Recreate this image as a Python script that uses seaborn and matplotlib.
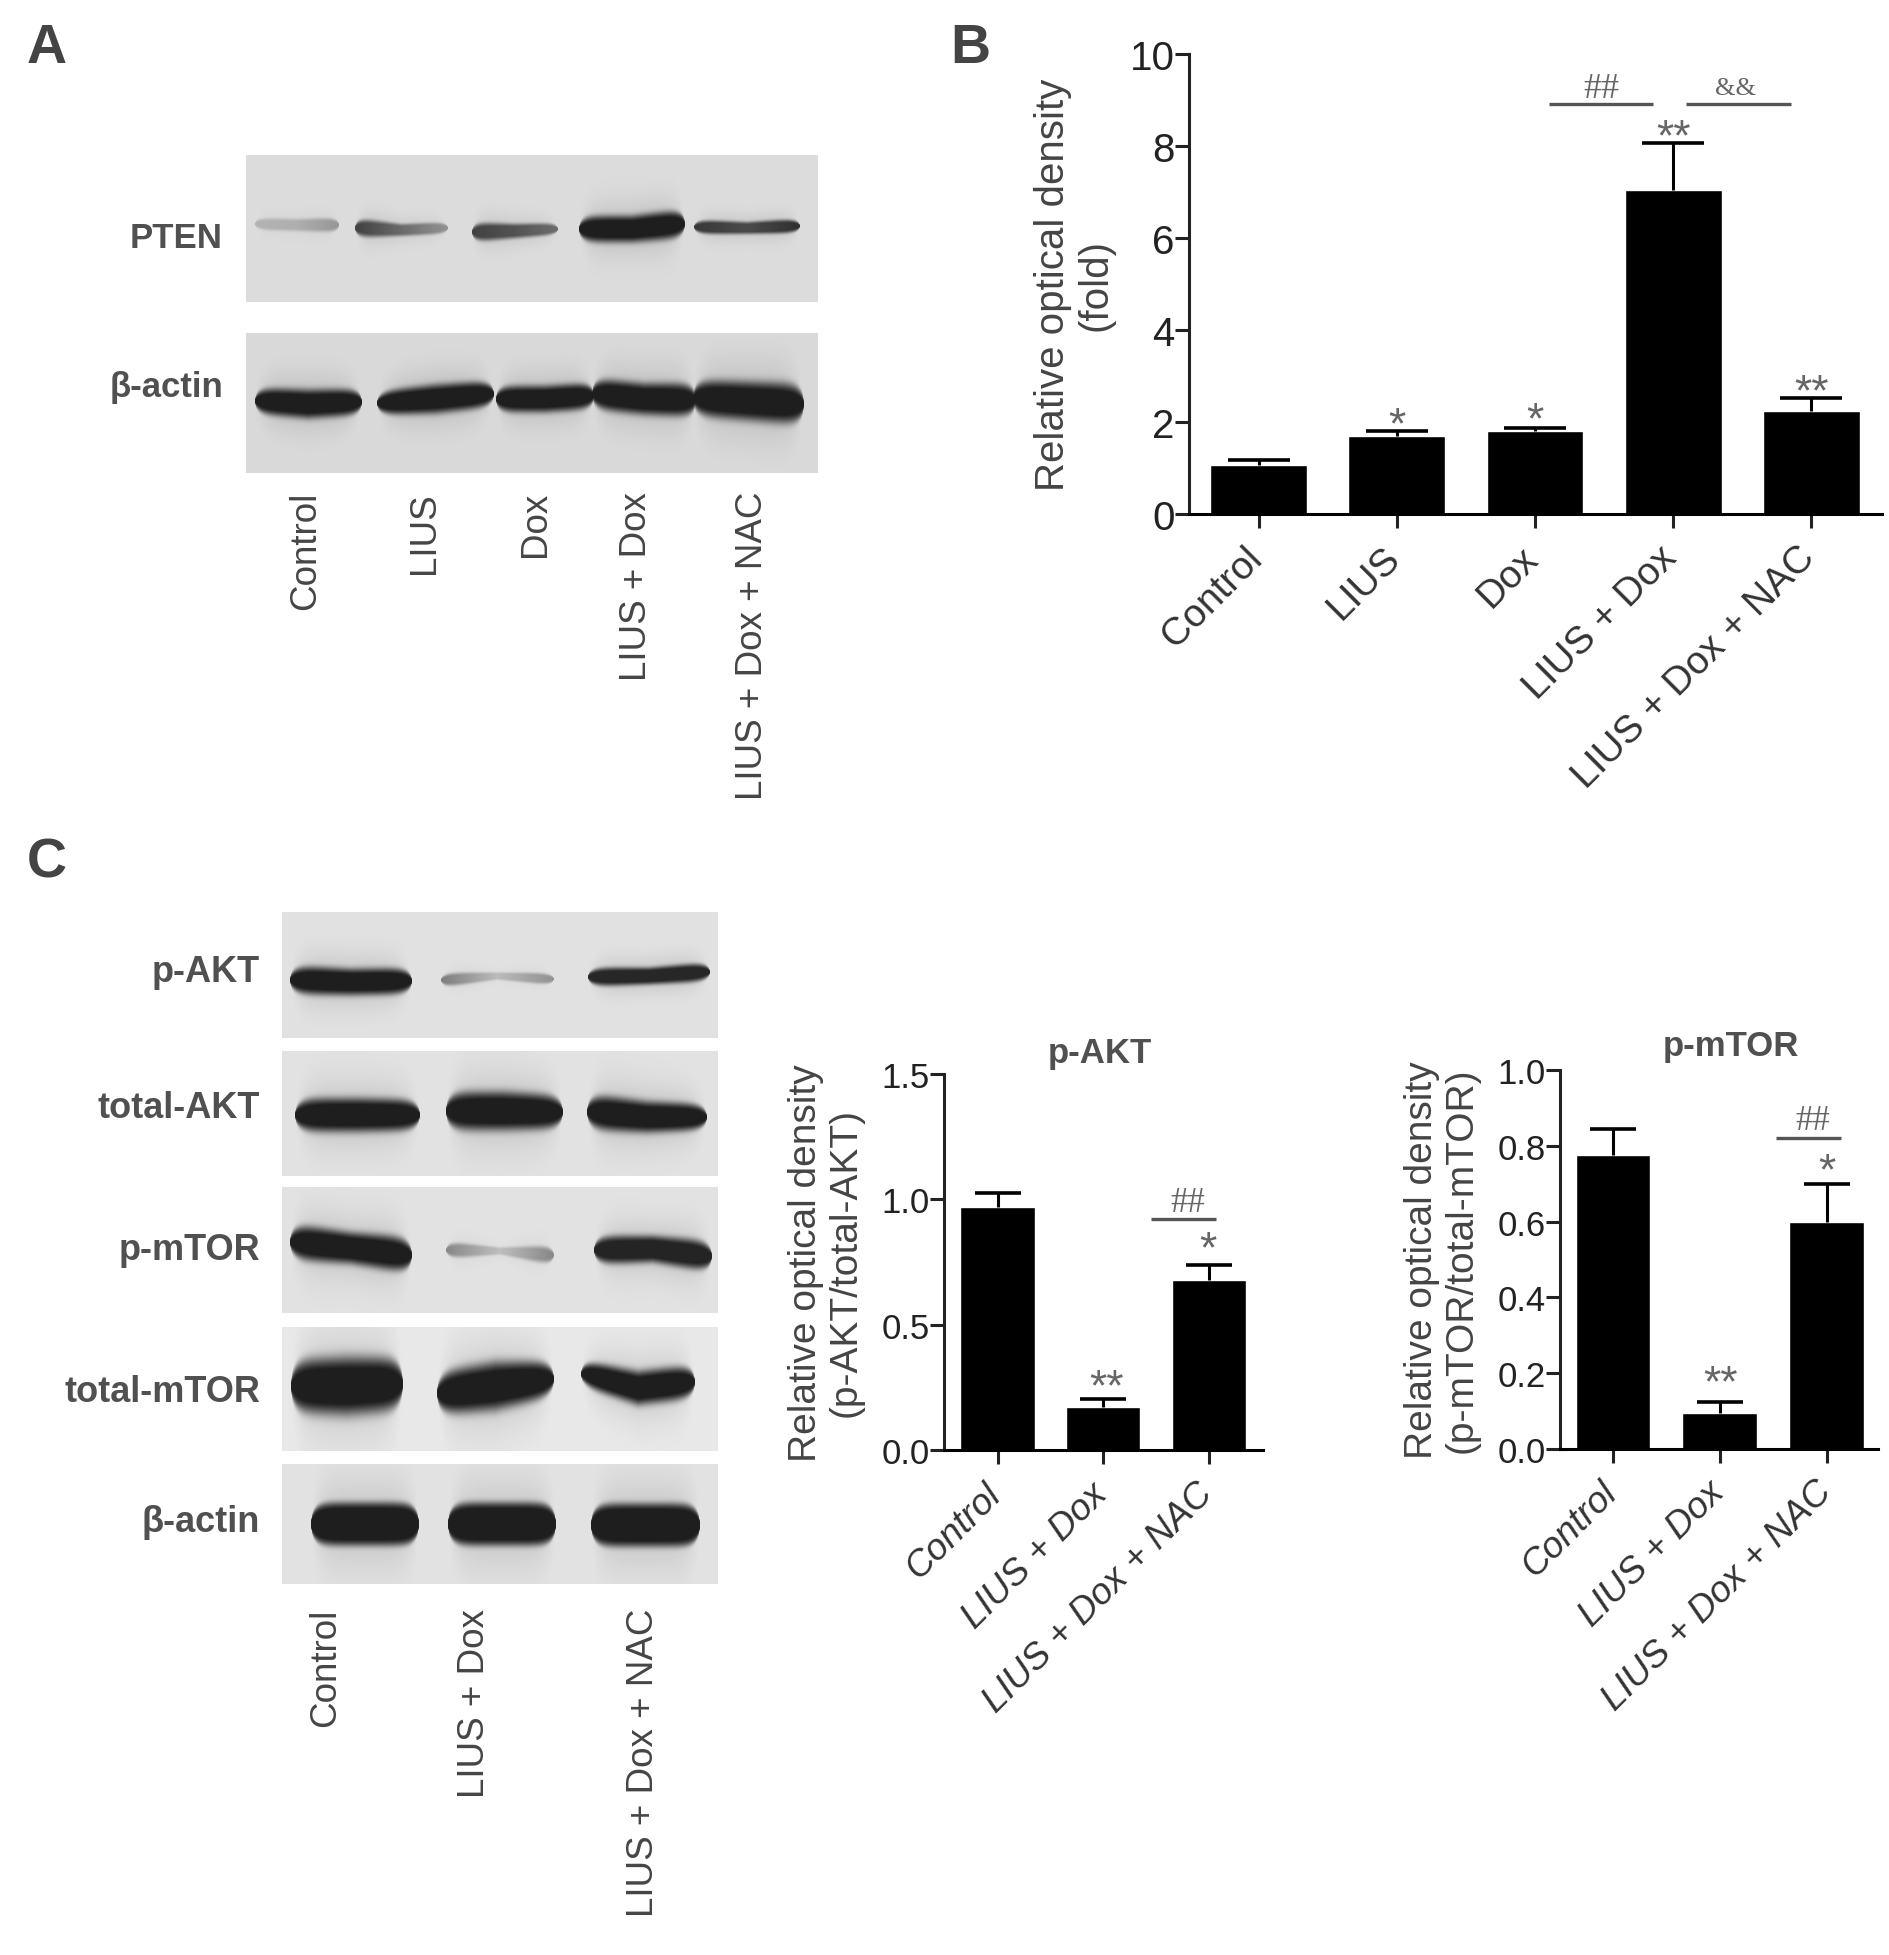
import matplotlib
matplotlib.use("Agg")
import matplotlib.pyplot as plt
from matplotlib.transforms import ScaledTranslation
import numpy as np
import pandas as pd
import seaborn as sns

W, H = 1890, 1956

# bar data
groups_b = ['Control', 'LIUS', 'Dox', 'LIUS + Dox', 'LIUS + Dox + NAC']
density_b = [1.07, 1.70, 1.80, 7.05, 2.25]
error_b = [0.10, 0.10, 0.08, 1.02, 0.27]

groups_c = ['Control', 'LIUS + Dox', 'LIUS + Dox + NAC']
density_akt = [0.97, 0.17, 0.68]
error_akt = [0.055, 0.035, 0.06]
density_mtor = [0.775, 0.095, 0.60]
error_mtor = [0.07, 0.03, 0.10]

# relative band strength of the blots, per lane
pten_bands = [0.40, 0.80, 0.85, 1.0, 0.90]
actin_a_bands = [1.0, 1.0, 1.0, 1.0, 1.0]
pakt_bands = [1.0, 0.50, 0.95]
takt_bands = [1.0, 1.0, 1.0]
pmtor_bands = [1.0, 0.45, 0.97]
tmtor_bands = [1.0, 1.0, 1.0]
actin_c_bands = [1.0, 1.0, 1.0]

sns.set_theme(style='ticks')
plt.rcParams['font.family'] = ['Liberation Sans', 'DejaVu Sans']
plt.rcParams['axes.linewidth'] = 2.2

fig = plt.figure(figsize=(W / 100, H / 100), dpi=100, facecolor='white')


def ax_px(x0, y0, x1, y1):
    return fig.add_axes([x0 / W, 1 - y1 / H, (x1 - x0) / W, (y1 - y0) / H])


def ftext(x, y, s, **kw):
    fig.text(x / W, 1 - y / H, s, **kw)


# lane shapes: x0, x1, centre y (l/m/r), half thickness (l/m/r), strength (l/m/r)
def blot(box, lanes, bands, bg=220, sharp=4, dx=-3):
    x0, y0, x1, y1 = box
    xs = np.arange(x0, x1) + 0.5
    ys = np.arange(y0, y1) + 0.5
    xx, yy = np.meshgrid(xs, ys)
    dark = np.zeros_like(xx)
    for lane, strength in zip(lanes, bands):
        a, b, yc, th, dk = lane
        mid = (a + b) / 2
        half = (b - a) / 2 + 4
        t = [a, mid, b]
        cy = np.interp(xx, t, yc)
        u = np.clip(np.abs(xx - mid) / half, 0, 1)
        # rounded band ends
        tk = np.interp(xx, t, th) * 1.2 * np.sqrt(np.clip(1 - u ** 8, 0.0001, 1))
        dd = np.interp(xx, t, dk) * strength
        core = np.exp(-(np.abs(yy - cy) / tk) ** sharp)
        halo = 0.14 * np.exp(-((yy - cy) / (tk * 2.0 + 1)) ** 2) * (1 - u ** 4)
        dark = np.maximum(dark, dd * np.clip(core + halo, 0, 1))
    img = bg - dark * (bg - 30)
    ax = ax_px(x0 + dx, y0, x1 + dx, y1)
    ax.imshow(img, cmap='gray', vmin=0, vmax=255, aspect='auto', interpolation='bilinear')
    ax.axis('off')


FULL = (1, 1, 1)

# Panel A blots
blot((249, 156, 821, 303), [
    (262, 338, (225, 226, 226), (5, 5, 6), (0.55, 0.6, 0.9)),
    (362, 447, (229, 231, 229), (8, 5, 5), (1, 0.75, 0.5)),
    (479, 557, (233, 232, 230), (8, 6, 5), (0.95, 0.85, 0.7)),
    (586, 684, (230, 230, 225), (11, 11, 12), FULL),
    (701, 799, (228, 229, 227), (6, 5, 6), (0.95, 0.85, 1)),
], pten_bands)
blot((249, 334, 821, 474), [
    (262, 361, (402, 405, 403), (11, 12, 11), FULL),
    (384, 493, (404, 400, 395), (10, 12, 11), FULL),
    (503, 593, (400, 400, 397), (11, 11, 11), FULL),
    (599, 695, (395, 400, 401), (13, 13, 14), FULL),
    (700, 803, (399, 402, 405), (15, 16, 17), FULL),
], actin_a_bands, bg=218)

# Panel C blots
blot((285, 913, 721, 1039), [
    (297, 411, (981, 983, 982), (12, 11, 11), FULL),
    (448, 553, (981, 977, 980), (6, 3, 5), (1, 0.4, 0.8)),
    (595, 709, (978, 977, 973), (8, 7, 8), FULL),
], pakt_bands, bg=226)
blot((285, 1052, 721, 1177), [
    (302, 419, (1116, 1116, 1116), (14, 14, 13), FULL),
    (453, 562, (1112, 1112, 1113), (16, 16, 14), FULL),
    (594, 706, (1113, 1118, 1118), (15, 13, 11), FULL),
], takt_bands, bg=226)
blot((285, 1188, 721, 1314), [
    (297, 411, (1243, 1249, 1256), (15, 13, 15), FULL),
    (453, 553, (1251, 1252, 1256), (7, 3, 8), (1, 0.4, 1)),
    (601, 711, (1251, 1250, 1257), (12, 11, 13), FULL),
], pmtor_bands, bg=226)
blot((285, 1328, 721, 1452), [
    (298, 402, (1387, 1387, 1385), (22, 24, 22), FULL),
    (444, 553, (1394, 1387, 1380), (18, 20, 15), FULL),
    (588, 694, (1375, 1389, 1383), (11, 14, 14), FULL),
], tmtor_bands, bg=232)
blot((285, 1465, 721, 1585), [
    (318, 418, (1525, 1525, 1525), (18, 18, 18), FULL),
    (455, 555, (1525, 1525, 1525), (18, 18, 18), FULL),
    (598, 699, (1526, 1526, 1526), (18, 18, 18), FULL),
], actin_c_bands, bg=226, sharp=6)

grey = '#505050'

# blot row labels
for y, s in [(239, 'PTEN'), (388, 'β-actin')]:
    ftext(223, y, s, ha='right', va='center', fontsize=25, fontweight='bold', color=grey)
for y, s in [(973, 'p-AKT'), (1108, 'total-AKT'), (1251, 'p-mTOR'),
             (1392, 'total-mTOR'), (1523, 'β-actin')]:
    ftext(260, y, s, ha='right', va='center', fontsize=26, fontweight='bold', color=grey)

# lane labels
for x, s in zip([306, 425, 535, 636, 753], groups_b):
    ftext(x, 492, s, rotation=90, ha='center', va='top', fontsize=26.5, color='#454545')
for x, s in zip([326, 475, 644], groups_c):
    ftext(x, 1609, s, rotation=90, ha='center', va='top', fontsize=26.5, color='#454545')

# panel letters
for x, y, s in [(27, 63, 'A'), (950, 63, 'B'), (27, 878, 'C')]:
    ftext(x, y, s, ha='left', va='baseline', fontsize=40, fontweight='bold', color='#444444')


def bars(box, groups, vals, errs, xlim, ylim, yticks, fmt, cap, ylabel, label_x,
         tick_fs, lab_fs, ylab_fs, rot, style, shift):
    ax = ax_px(*box)
    df = pd.DataFrame({'group': groups, 'density': vals})
    sns.barplot(data=df, x='group', y='density', color='black', saturation=1,
                width=0.7, errorbar=None, ax=ax, order=groups)
    xpos = np.arange(len(groups))
    tops = np.array(vals) + np.array(errs)
    ax.vlines(xpos, vals, tops, color='black', lw=2.2)
    ax.plot(xpos, tops, '_', color='black', ms=cap, mew=2.6)
    ax.set_xlim(*xlim)
    ax.set_ylim(*ylim)
    ax.set_yticks(yticks)
    ax.set_yticklabels([fmt % t for t in yticks], fontsize=tick_fs, color='#222222')
    ax.set_xticks(xpos)
    ax.set_xticklabels(groups, rotation=rot, ha='right', rotation_mode='anchor',
                       fontsize=lab_fs, color='#333333', style=style)
    ax.tick_params(axis='x', length=10, width=2.2, color='#222222', pad=3)
    ax.tick_params(axis='y', length=10, width=2.2, color='#222222', pad=0.5)
    # the labels sit left of the ticks in the original
    off = ScaledTranslation(shift[0] / 100, shift[1] / 100, fig.dpi_scale_trans)
    for lab in ax.get_xticklabels():
        lab.set_transform(lab.get_transform() + off)
    ax.set_xlabel('')
    ax.set_ylabel(ylabel, fontsize=ylab_fs, color='#444444', linespacing=1.15)
    ax.yaxis.set_label_coords((label_x - box[0]) / (box[2] - box[0]), 0.5)
    sns.despine(ax=ax)
    ax.spines['left'].set_color('#222222')
    ax.spines['bottom'].set_color('black')
    ax.patch.set_alpha(0)
    return ax


def mark(ax, x, y, s, size=32, lift=0.5, family=None):
    ax.annotate(s, (x, y), xytext=(0, -lift * size), textcoords='offset points', ha='center',
                va='baseline', fontsize=size, color='#666666', annotation_clip=False,
                family=family if family else plt.rcParams['font.family'])


def rule(ax, x0, x1, y):
    ax.plot([x0, x1], [y, y], color='#555555', lw=2.4, clip_on=False, solid_capstyle='butt')


# Panel B
box_b = (1189, 55, 1882, 515)
ax_b = bars(box_b, groups_b, density_b, error_b, (-0.503, 4.51), (0, 10),
            [0, 2, 4, 6, 8, 10], '%d', 45, 'Relative optical density\n(fold)', 1115,
            29, 28, 29, 45, 'normal', (-15, -7))
mark(ax_b, 1, 2.16, '*')
mark(ax_b, 2, 2.25, '*')
mark(ax_b, 3, 8.42, '**')
mark(ax_b, 4, 2.87, '**')
rule(ax_b, 2.10, 2.85, 8.92)
rule(ax_b, 3.09, 3.85, 8.92)
mark(ax_b, 2.48, 9.33, '##', size=26, lift=0.33, family='Liberation Serif')
mark(ax_b, 3.45, 9.33, '&&', size=19, lift=0.33, family='Liberation Serif')

# Panel C, p-AKT
box_akt = (944, 1075, 1263, 1451)
ax_akt = bars(box_akt, groups_c, density_akt, error_akt, (-0.506, 2.51), (0, 1.5),
              [0, 0.5, 1.0, 1.5], '%.1f', 33, 'Relative optical density\n(p-AKT/total-AKT)', 864,
              25, 26.5, 28, 45, 'italic', (-14, -8))
ax_akt.set_title('p-AKT', fontsize=25, fontweight='bold', color=grey, pad=9,
                 x=(1100 - box_akt[0]) / (box_akt[2] - box_akt[0]))
mark(ax_akt, 1.03, 0.29, '**')
mark(ax_akt, 1.99, 0.84, '*')
rule(ax_akt, 1.45, 2.07, 0.92)
mark(ax_akt, 1.80, 1.0, '##', size=25, lift=0.33, family='Liberation Serif')

# Panel C, p-mTOR
box_mtor = (1560, 1071, 1878, 1450)
ax_mtor = bars(box_mtor, groups_c, density_mtor, error_mtor, (-0.496, 2.48), (0, 1.0),
               [0, 0.2, 0.4, 0.6, 0.8, 1.0], '%.1f', 33, 'Relative optical density\n(p-mTOR/total-mTOR)', 1480,
               25, 26.5, 28, 45, 'italic', (-13, -7))
ax_mtor.set_title('p-mTOR', fontsize=25, fontweight='bold', color=grey, pad=11,
                  x=(1731 - box_mtor[0]) / (box_mtor[2] - box_mtor[0]))
mark(ax_mtor, 1.01, 0.20, '**')
mark(ax_mtor, 2.0, 0.76, '*')
rule(ax_mtor, 1.53, 2.13, 0.82)
mark(ax_mtor, 1.87, 0.875, '##', size=25, lift=0.33, family='Liberation Serif')

fig.savefig('out.png', dpi=100)
